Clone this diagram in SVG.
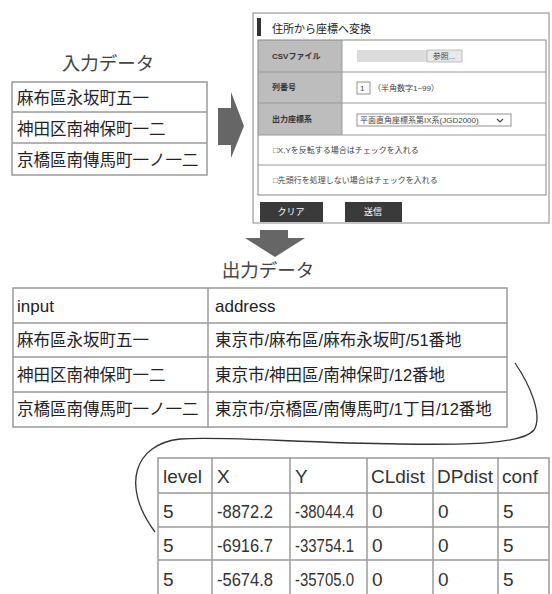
<svg xmlns="http://www.w3.org/2000/svg" width="552" height="594" viewBox="0 0 552 594">
<style>
  .t { font-family: "Liberation Sans", "Noto Sans CJK JP", sans-serif; fill: #222; }
  .title { font-size: 18.5px; fill: #444; }
  .cell { font-size: 16.5px; }
  .lat { font-size: 17px; }
  .big { font-size: 19px; fill: #333; }
  .grid { fill: none; stroke: #9a9a9a; stroke-width: 1.5; }
  .small { font-size: 8px; fill: #444; }
  .lbl { font-size: 8px; font-weight: bold; fill: #333; }
  .btn { fill: #3a3a3a; }
  .btnt { font-size: 9px; fill: #fff; text-anchor: middle; }
  .arrow { fill: #666; }
</style>
<rect width="552" height="594" fill="#fff"/>

<g id="input-title"><text class="t title" x="108" y="70" text-anchor="middle">入力データ</text></g>

<g id="input-table">
  <rect class="grid" x="12" y="82" width="195" height="93"/>
  <line class="grid" x1="12" y1="112" x2="207" y2="112"/>
  <line class="grid" x1="12" y1="143" x2="207" y2="143"/>
  <text class="t cell" x="17" y="104">麻布區永坂町五一</text>
  <text class="t cell" x="17" y="135">神田区南神保町一二</text>
  <text class="t cell" x="17" y="166">京橋區南傳馬町一ノ一二</text>
</g>

<g id="screenshot">
  <rect x="253" y="13" width="296" height="210" fill="#fff" stroke="#888" stroke-width="1"/>
  <rect x="257" y="18" width="4" height="18" fill="#333"/>
  <text class="t" x="272" y="33" font-size="11px" fill="#555">住所から座標へ変換</text>
  <rect x="258" y="40" width="84" height="95" fill="#bdbdbd"/>
  <rect x="258" y="40" width="288" height="155" fill="none" stroke="#888" stroke-width="1"/>
  <line x1="342" y1="40" x2="342" y2="135" stroke="#999" stroke-width="1"/>
  <line x1="258" y1="72" x2="546" y2="72" stroke="#999" stroke-width="1"/>
  <line x1="258" y1="103" x2="546" y2="103" stroke="#999" stroke-width="1"/>
  <line x1="258" y1="135" x2="546" y2="135" stroke="#999" stroke-width="1"/>
  <line x1="258" y1="165" x2="546" y2="165" stroke="#999" stroke-width="1"/>
  <text class="t lbl" x="272" y="59">CSVファイル</text>
  <text class="t lbl" x="272" y="90">列番号</text>
  <text class="t lbl" x="272" y="122">出力座標系</text>
  <rect x="357" y="50" width="70" height="12" fill="#dcdcdc"/>
  <rect x="427" y="50" width="35" height="12" fill="#e8e8e8" stroke="#aaa" stroke-width="0.7"/>
  <text class="t small" x="444" y="59" text-anchor="middle" font-size="7px">参照...</text>
  <rect x="357" y="82" width="13" height="12" fill="#fff" stroke="#777" stroke-width="0.8"/>
  <text class="t small" x="360" y="91">1</text>
  <text class="t small" x="373" y="91">（半角数字1~99）</text>
  <rect x="357" y="114" width="154" height="12" fill="#fff" stroke="#777" stroke-width="0.8"/>
  <text class="t small" x="360" y="123">平面直角座標系第IX系(JGD2000)</text>
  <path d="M497,119 L500,122 L503,119" fill="none" stroke="#444" stroke-width="1.2"/>
  <text class="t small" x="273" y="153" font-size="8.5px">□X,Yを反転する場合はチェックを入れる</text>
  <text class="t small" x="273" y="183" font-size="8.5px">□先頭行を処理しない場合はチェックを入れる</text>
  <rect class="btn" x="260" y="202" width="63" height="20"/>
  <text class="t btnt" x="291" y="215">クリア</text>
  <rect class="btn" x="345" y="202" width="57" height="20"/>
  <text class="t btnt" x="373" y="215">送信</text>
</g>

<g id="output-title"><text class="t title" x="268" y="277" text-anchor="middle">出力データ</text></g>

<g id="output-table">
  <rect class="grid" x="13" y="288" width="494" height="139"/>
  <line class="grid" x1="208" y1="288" x2="208" y2="427"/>
  <line class="grid" x1="13" y1="323" x2="507" y2="323"/>
  <line class="grid" x1="13" y1="357" x2="507" y2="357"/>
  <line class="grid" x1="13" y1="392" x2="507" y2="392"/>
  <text class="t lat" x="17" y="312">input</text>
  <text class="t lat" x="215" y="312">address</text>
  <text class="t cell" x="17" y="346">麻布區永坂町五一</text>
  <text class="t cell" x="215" y="346">東京市/麻布區/麻布永坂町/51番地</text>
  <text class="t cell" x="17" y="381">神田区南神保町一二</text>
  <text class="t cell" x="215" y="381">東京市/神田區/南神保町/12番地</text>
  <text class="t cell" x="17" y="415">京橋區南傳馬町一ノ一二</text>
  <text class="t cell" x="215" y="415">東京市/京橋區/南傳馬町/1丁目/12番地</text>
</g>

<g id="coord-table">
  <path class="grid" d="M158,600 V458 H549 V600"/>
  <line class="grid" x1="212" y1="458" x2="212" y2="600"/>
  <line class="grid" x1="290" y1="458" x2="290" y2="600"/>
  <line class="grid" x1="367" y1="458" x2="367" y2="600"/>
  <line class="grid" x1="433" y1="458" x2="433" y2="600"/>
  <line class="grid" x1="498" y1="458" x2="498" y2="600"/>
  <line class="grid" x1="158" y1="493" x2="549" y2="493"/>
  <line class="grid" x1="158" y1="527" x2="549" y2="527"/>
  <line class="grid" x1="158" y1="560" x2="549" y2="560"/>
  <text class="t big" x="163" y="483">level</text>
  <text class="t big" x="217" y="483">X</text>
  <text class="t big" x="295" y="483">Y</text>
  <text class="t big" x="371" y="483">CLdist</text>
  <text class="t big" x="437" y="483">DPdist</text>
  <text class="t big" x="502" y="483">conf</text>

  <text class="t big" x="163" y="518">5</text>
  <text class="t big" x="217" y="518" textLength="56" lengthAdjust="spacingAndGlyphs">-8872.2</text>
  <text class="t big" x="295" y="518" textLength="59" lengthAdjust="spacingAndGlyphs">-38044.4</text>
  <text class="t big" x="372" y="518">0</text>
  <text class="t big" x="438" y="518">0</text>
  <text class="t big" x="503" y="518">5</text>

  <text class="t big" x="163" y="552">5</text>
  <text class="t big" x="217" y="552" textLength="56" lengthAdjust="spacingAndGlyphs">-6916.7</text>
  <text class="t big" x="295" y="552" textLength="59" lengthAdjust="spacingAndGlyphs">-33754.1</text>
  <text class="t big" x="372" y="552">0</text>
  <text class="t big" x="438" y="552">0</text>
  <text class="t big" x="503" y="552">5</text>

  <text class="t big" x="163" y="586">5</text>
  <text class="t big" x="217" y="586" textLength="56" lengthAdjust="spacingAndGlyphs">-5674.8</text>
  <text class="t big" x="295" y="586" textLength="59" lengthAdjust="spacingAndGlyphs">-35705.0</text>
  <text class="t big" x="372" y="586">0</text>
  <text class="t big" x="438" y="586">0</text>
  <text class="t big" x="503" y="586">5</text>
</g>

<g id="connectors">
  <polygon class="arrow" points="218,108 231,108 231,92 244,126 231,158 231,145 218,145"/>
  <polygon class="arrow" points="260,230 288,230 288,238 305,238 275,257 245,238 260,238"/>
  <path d="M515,363 C530,385 543,415 534,430 C522,444 470,445 400,444 C300,443 225,436 180,439 C135,444 120,485 155,532" fill="none" stroke="#333" stroke-width="1.3"/>
</g>
</svg>
